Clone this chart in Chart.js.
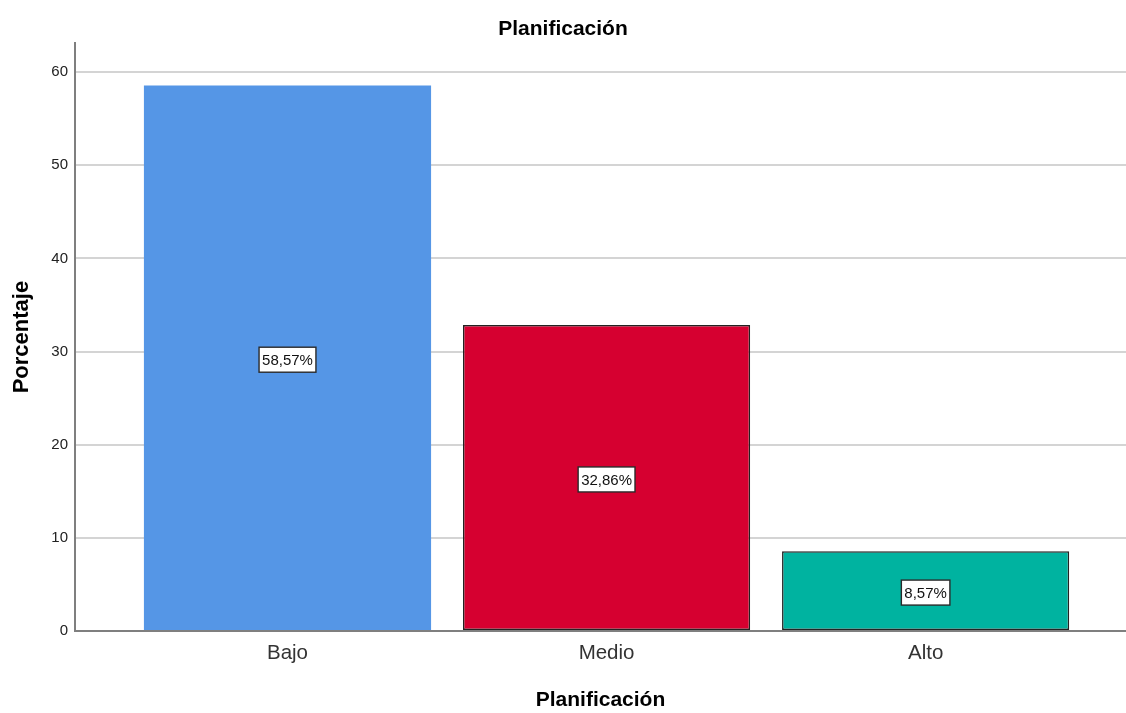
<!DOCTYPE html>
<html>
<head>
<meta charset="utf-8">
<script src="https://cdn.jsdelivr.net/npm/chart.js@4.4.1/dist/chart.umd.min.js"></script>
<style>
  html, body { margin: 0; padding: 0; background: #ffffff; }
  #wrap { width: 1126px; height: 713px; }
</style>
</head>
<body>
<div id="wrap"><canvas id="c" width="1126" height="713"></canvas></div>
<script>
// Porcentaje por nivel de planificación
const categories = ['Bajo', 'Medio', 'Alto'];
const percentages = [58.57, 32.86, 8.57];
const valueLabels = ['58,57%', '32,86%', '8,57%'];
const yTicks = [0, 10, 20, 30, 40, 50, 60];

const barColors = ['#5596e6', '#d60030', '#00b3a0'];
const barBorders = ['#5596e6', '#222222', '#222222'];

const FONT = '"Liberation Sans", Arial, sans-serif';

// Boxed value label drawn at the middle of each bar
const boxLabels = {
  id: 'boxLabels',
  afterDatasetsDraw(chart) {
    const ctx = chart.ctx;
    const meta = chart.getDatasetMeta(0);
    ctx.save();
    ctx.font = '15px ' + FONT;
    ctx.textAlign = 'center';
    ctx.textBaseline = 'middle';
    meta.data.forEach((bar, i) => {
      const text = valueLabels[i];
      const cx = bar.x;
      const cy = (bar.y + bar.base) / 2 + 2;
      const w = ctx.measureText(text).width + 6;
      const h = 25;
      ctx.fillStyle = '#ffffff';
      ctx.fillRect(cx - w / 2, cy - h / 2, w, h);
      ctx.strokeStyle = '#2a2a2a';
      ctx.lineWidth = 1.4;
      ctx.strokeRect(cx - w / 2, cy - h / 2, w, h);
      ctx.fillStyle = '#111111';
      ctx.fillText(text, cx, cy + 1);
    });
    ctx.restore();
  }
};

new Chart(document.getElementById('c'), {
  type: 'bar',
  data: {
    datasets: [{
      data: percentages.map((v, i) => ({ x: i, y: v })),
      backgroundColor: barColors,
      borderColor: barBorders,
      borderWidth: [0, 1.5, 1.5],
      borderSkipped: false,
      categoryPercentage: 1,
      barPercentage: 0.9
    }]
  },
  options: {
    responsive: false,
    animation: false,
    layout: { padding: { left: 0, right: 0, top: 0, bottom: 0 } },
    plugins: {
      legend: { display: false },
      tooltip: { enabled: false },
      title: {
        display: true,
        text: 'Planificación',
        color: '#000000',
        font: { family: FONT, size: 21, weight: 'bold' },
        padding: { top: 17, bottom: 1 }
      }
    },
    scales: {
      x: {
        type: 'linear',
        offset: false,
        min: -0.666,
        max: 2.628,
        afterBuildTicks(scale) {
          scale.ticks = categories.map((_, i) => ({ value: i }));
        },
        ticks: {
          autoSkip: false,
          callback: (v) => categories[v] ?? '',
          color: '#333333',
          font: { family: FONT, size: 20.5 },
          padding: 10,
          maxRotation: 0
        },
        grid: { display: false, drawTicks: false },
        border: { display: true, color: '#7f7f7f', width: 2 },
        title: {
          display: true,
          text: 'Planificación',
          color: '#000000',
          font: { family: FONT, size: 21, weight: 'bold' },
          padding: { top: 16, bottom: 0 }
        },
        afterFit(scale) { scale.height = 82; }
      },
      y: {
        min: 0,
        max: 63.1,
        afterBuildTicks(scale) {
          scale.ticks = yTicks.map(v => ({ value: v }));
        },
        ticks: {
          color: '#222222',
          font: { family: FONT, size: 15 },
          padding: 7
        },
        grid: { color: '#d4d4d4', lineWidth: 2, drawTicks: false },
        border: { display: true, color: '#7f7f7f', width: 2 },
        title: {
          display: true,
          text: 'Porcentaje',
          color: '#000000',
          font: { family: FONT, size: 22, weight: 'bold' },
          padding: { top: 9, bottom: 0 }
        },
        afterFit(scale) { scale.width = 75; }
      }
    }
  },
  plugins: [boxLabels]
});
</script>
</body>
</html>
